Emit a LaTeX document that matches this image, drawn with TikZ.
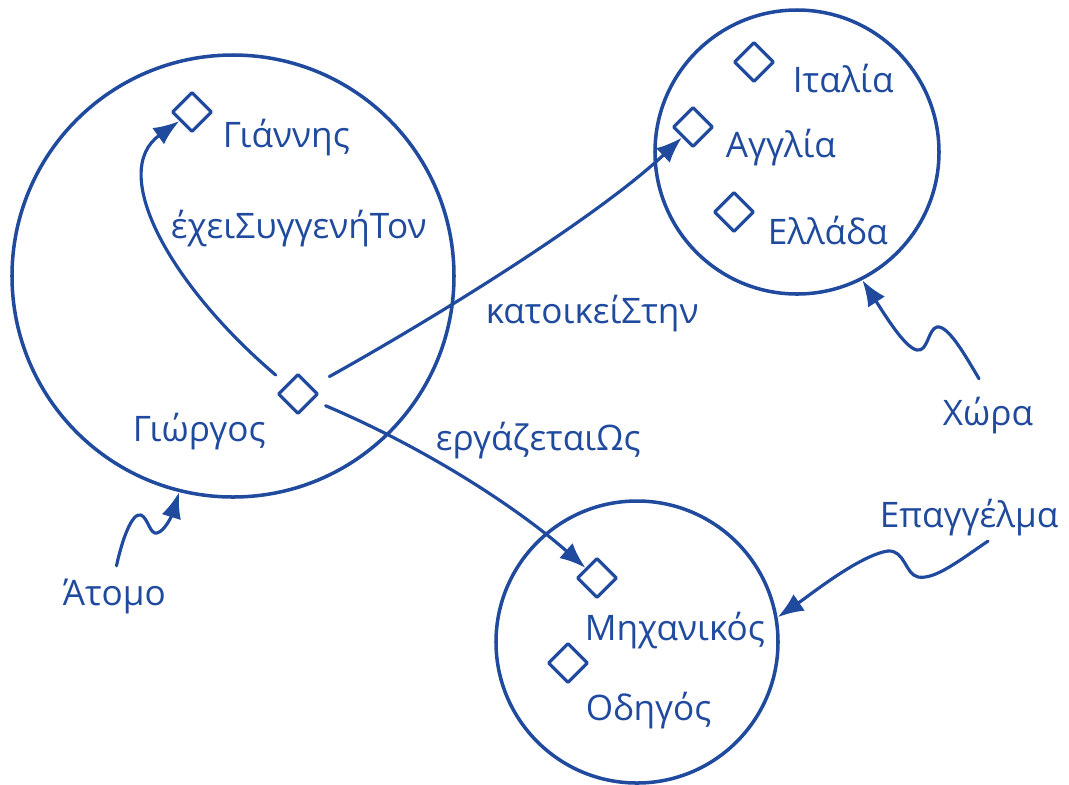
\documentclass[tikz,border=0pt]{standalone}
\usepackage{fontspec}
\setmainfont{Open Sans}
\usetikzlibrary{shapes.geometric,arrows.meta}
\definecolor{ontoblue}{RGB}{32,74,158}
\tikzset{
  cls/.style={circle,draw,line width=2pt,inner sep=0pt},
  inst/.style={diamond,draw,line width=1.8pt,minimum width=8mm,minimum height=8mm,inner sep=0pt},
  lbl/.style={anchor=base west,inner sep=0.5mm},
  rel/.style={->,line width=1.8pt},
}
\begin{document}
\begin{tikzpicture}[x=0.2mm,y=-0.2mm,>={Latex[length=5.2mm,width=4mm]},
  font=\fontsize{20}{24}\selectfont,color=ontoblue,line join=round,line cap=round]
\useasboundingbox (0,0) rectangle (1069,784);
% κλάσεις
\node[cls,minimum size=88.4mm] (person) at (233,276) {};
\node[cls,minimum size=56.8mm] (country) at (797,152) {};
\node[cls,minimum size=56.4mm] (job) at (637,642) {};
% άτομα των κλάσεων
\node[inst] (giannis) at (192,112) {};
\node[inst] (giorgos) at (298,394) {};
\node[inst] (italia) at (754,62) {};
\node[inst] (anglia) at (693,127) {};
\node[inst] (ellada) at (734,212) {};
\node[inst] (michanikos) at (597,578) {};
\node[inst] (odigos) at (568,663) {};
\node[lbl] (giannis-t) at (220,147) {Γιάννης};
\node[lbl] (giorgos-t) at (130,441) {Γιώργος};
\node[lbl] (italia-t) at (790,92) {Ιταλία};
\node[lbl] (anglia-t) at (723,157) {Αγγλία};
\node[lbl] (ellada-t) at (765,244) {Ελλάδα};
\node[lbl] (michanikos-t) at (582,640) {Μηχανικός};
\node[lbl] (odigos-t) at (583,720) {Οδηγός};
% ονόματα κλάσεων
\node[lbl] (atomo) at (60,605) {Άτομο};
\node[lbl] (chora) at (940,425) {Χώρα};
\node[lbl] (epaggelma) at (877,527) {Επαγγέλμα};
% ιδιότητες
\node[lbl] (syggenis) at (168,238) {έχειΣυγγενήΤον};
\node[lbl] (katoikei) at (483,323) {κατοικείΣτην};
\node[lbl] (ergazetai) at (433,450) {εργάζεταιΩς};
\draw[rel,shorten <=2.8mm] (giorgos) .. controls (170,285) and (108,172) .. (giannis);
\draw[rel,shorten <=4mm] (giorgos) .. controls (440,315) and (600,215) .. (anglia);
\draw[rel,shorten <=2.7mm] (giorgos) .. controls (430,450) and (520,510) .. (michanikos);
% κυματιστά βέλη
\draw[rel,shorten <=2mm] (atomo.north) .. controls (122,540) and (132,512) .. (141,515)
  .. controls (148,518) and (150,535) .. (157,533) .. controls (165,531) and (172,515) .. (person.256);
\draw[rel,shorten <=3.5mm] (chora.north) .. controls (965,355) and (948,325) .. (937,327)
  .. controls (928,329) and (928,352) .. (917,350) .. controls (905,348) and (885,315) .. (country.297);
\draw[rel,shorten <=1mm] ([xshift=4.6mm]epaggelma.south) .. controls (960,560) and (935,580) .. (918,577)
  .. controls (905,574) and (905,550) .. (888,551) .. controls (860,555) and (810,595) .. (job.10);
\end{tikzpicture}
\end{document}
